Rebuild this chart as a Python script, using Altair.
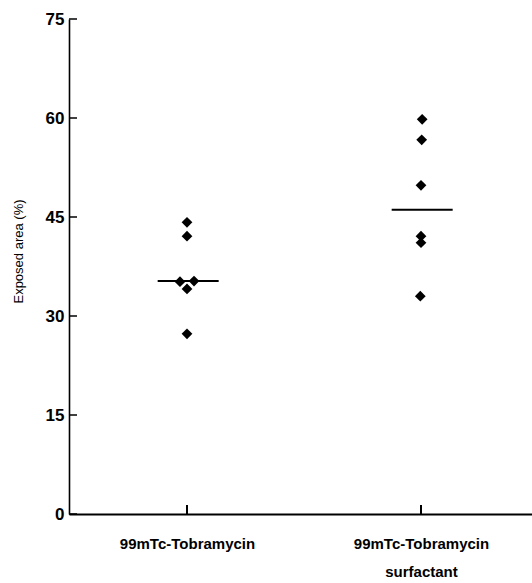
import json
import altair as alt
import pandas as pd

# ---- data ----
group_pos = [1, 2]
group_label_lines = [["99mTc-Tobramycin"], ["99mTc-Tobramycin", "surfactant"]]

g1_values = [44.2, 42.1, 35.2, 35.3, 34.1, 27.3]
g1_jitter = [0.0, 0.0, -0.03, 0.03, 0.0, 0.0]
g2_values = [59.8, 56.7, 49.8, 42.1, 41.1, 33.0]
g2_jitter = [0.005, 0.003, 0.0, 0.0, 0.0, -0.003]

median_values = [35.3, 46.1]
y_tick_values = [0, 15, 30, 45, 60, 75]

# ---- tables ----
pts = pd.DataFrame({
    "xpos": [group_pos[0] + j for j in g1_jitter] + [group_pos[1] + j for j in g2_jitter],
    "value": g1_values + g2_values,
})
med = pd.DataFrame({"xpos": [p + 0.005 for p in group_pos], "value": median_values})
yt = pd.DataFrame({"value": y_tick_values})
xt = pd.DataFrame({"xpos": group_pos})

W, H = 463, 495
FONT = "Liberation Sans"

label_map = {str(p): lines for p, lines in zip(group_pos, group_label_lines)}
label_expr = f"{json.dumps(label_map)}[toString(datum.value)]"

x_scale = alt.Scale(domain=[0.49573, 2.47436], nice=False, zero=False)
y_scale = alt.Scale(domain=[0, 75], nice=False, zero=True)

points = alt.Chart(pts).mark_point(
    shape="diamond", filled=True, size=115, color="black", opacity=1
).encode(
    x=alt.X("xpos:Q", scale=x_scale, axis=alt.Axis(
        values=group_pos, labelExpr=label_expr, title=None, grid=False,
        ticks=False, domainColor="black", domainWidth=2,
        labelPadding=22, labelBaseline="top", labelAlign="center",
        labelFont=FONT, labelFontSize=15, labelFontWeight="bold",
        labelColor="black", labelLineHeight=28, labelOverlap=False,
    )),
    y=alt.Y("value:Q", scale=y_scale, axis=alt.Axis(
        values=y_tick_values, title="Exposed area (%)", grid=False,
        ticks=False, domainColor="black", domainWidth=1.6,
        labelPadding=5, labelFont=FONT, labelFontSize=17,
        labelFontWeight="bold", labelColor="black",
        titleFont=FONT, titleFontSize=13, titleFontWeight="normal",
        titleColor="black", titleAngle=270, titleX=-51, titleY=232,
        titleAlign="center", titleBaseline="middle",
    )),
)

medians = alt.Chart(med).mark_tick(
    orient="horizontal", size=61, thickness=2, color="black", opacity=1
).encode(x="xpos:Q", y="value:Q")

y_ticks = alt.Chart(yt).mark_rule(color="black", strokeWidth=1.5).encode(
    y="value:Q", x=alt.value(0), x2=alt.value(8)
)

x_ticks = alt.Chart(xt).mark_rule(color="black", strokeWidth=2).encode(
    x="xpos:Q", y=alt.value(H), y2=alt.value(H - 9)
)

chart = alt.layer(y_ticks, x_ticks, medians, points).properties(
    width=W, height=H,
    autosize=alt.AutoSizeParams(type="none"),
    padding={"left": 69, "top": 19, "right": 0, "bottom": 69},
    background="white",
).configure_view(stroke=None)

chart.save("out.html", embed_options={"renderer": "svg", "actions": False})
